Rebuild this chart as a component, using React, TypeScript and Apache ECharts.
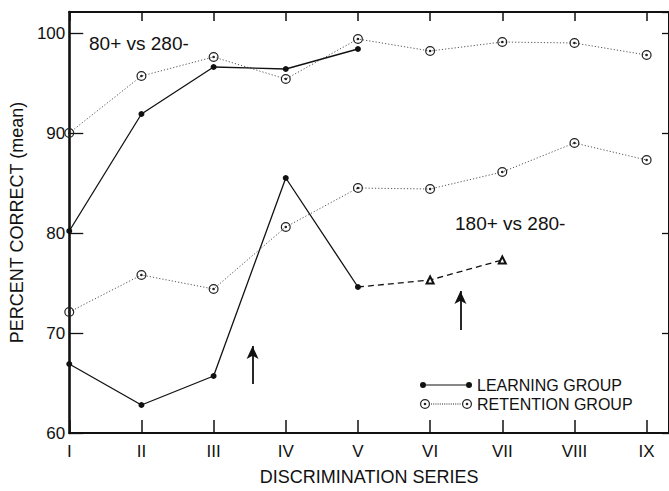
import { useEffect, useRef } from "react";
import * as echarts from "echarts";

// ---- data ----
const SERIES_LABELS = ["I", "II", "III", "IV", "V", "VI", "VII", "VIII", "IX"];
const Y_TICK_VALUES = [60, 70, 80, 90, 100];

// 80+ vs 280- discrimination
const LEARNING_80 = [80.2, 91.9, 96.6, 96.4, 98.4];
const RETENTION_80 = [90.0, 95.7, 97.6, 95.4, 99.4, 98.2, 99.1, 99.0, 97.8];

// 180+ vs 280- discrimination
const LEARNING_180 = [66.9, 62.8, 65.7, 85.5, 74.6];
const LEARNING_180_LATER: (number | null)[] = [null, null, null, null, 74.6, 75.3, 77.3];
const RETENTION_180 = [72.1, 75.8, 74.4, 80.6, 84.5, 84.4, 86.1, 89.0, 87.3];

// arrows (series position, from value, to value)
const ARROWS = [
  { x: 3.54, from: 64.9, to: 68.7 },
  { x: 6.42, from: 70.3, to: 74.2 },
];

const INK = "#111";
const FONT = "Liberation Sans";

function circ(cx: number, cy: number, r: number, cw: boolean) {
  const s = cw ? 1 : 0;
  return `M${cx},${cy - r}A${r},${r} 0 1,${s} ${cx},${cy + r}A${r},${r} 0 1,${s} ${cx},${cy - r}Z`;
}
function ringDot(cx: number, cy: number, r: number, ri: number, rd: number) {
  return circ(cx, cy, r, true) + " " + circ(cx, cy, ri, false) + " " + circ(cx, cy, rd, true);
}

const RING_SYMBOL = "path://" + ringDot(10, 10, 10, 7.6, 2.6);

const LEGEND_LEARN =
  "path://" +
  circ(3, 3, 3, true) +
  " " +
  circ(49, 3, 3, true) +
  " M3,2.4L49,2.4L49,3.6L3,3.6Z";

let dots = "";
for (let x = 11; x <= 40; x += 2.2) {
  dots += ` M${x.toFixed(1)},4.6L${(x + 1).toFixed(1)},4.6L${(x + 1).toFixed(1)},5.4L${x.toFixed(1)},5.4Z`;
}
const LEGEND_RET = "path://" + ringDot(5, 5, 5, 3.8, 1.3) + " " + ringDot(47, 5, 5, 3.8, 1.3) + dots;

const toXY = (vals: (number | null)[]) =>
  vals.map((v, i) => (v == null ? null : [i + 1, v])).filter((d) => d !== null) as number[][];

const X_MIN = 1;
const X_MAX = 9.31;
const Y_MIN = 60;
const Y_MAX = 102.1;

const learnStyle = {
  type: "line" as const,
  name: "LEARNING GROUP",
  symbol: "circle",
  symbolSize: 6,
  clip: false,
  itemStyle: { color: INK, borderWidth: 0 },
  lineStyle: { color: INK, width: 1.3 },
  z: 4,
};
const retStyle = {
  type: "line" as const,
  name: "RETENTION GROUP",
  symbol: RING_SYMBOL,
  symbolSize: 10,
  clip: false,
  itemStyle: { color: "#222", borderWidth: 0 },
  lineStyle: { color: "#555", width: 1, type: [1.2, 2] as any },
  z: 3,
};

const option: any = {
  animation: false,
  backgroundColor: "#fff",
  textStyle: { fontFamily: FONT, color: INK },
  grid: { left: 62, top: 12, width: 613, height: 425 },
  xAxis: [
    {
      type: "value",
      min: X_MIN,
      max: X_MAX,
      interval: 1,
      position: "bottom",
      name: "DISCRIMINATION SERIES",
      nameLocation: "middle",
      nameGap: 35,
      nameTextStyle: { fontSize: 18, color: INK, fontFamily: FONT },
      axisLine: { lineStyle: { color: INK, width: 2.2 } },
      axisTick: { inside: true, length: 13, lineStyle: { color: INK, width: 1.5 } },
      axisLabel: {
        margin: 10,
        fontSize: 17,
        color: INK,
        fontFamily: FONT,
        showMaxLabel: false,
        formatter: (v: number) =>
          Number.isInteger(v) && v >= 1 && v <= SERIES_LABELS.length ? SERIES_LABELS[v - 1] : "",
      },
      splitLine: { show: false },
    },
    {
      type: "value",
      min: X_MIN,
      max: X_MAX,
      interval: 1,
      position: "top",
      axisLine: { lineStyle: { color: INK, width: 2.2 } },
      axisTick: { inside: true, length: 9, lineStyle: { color: INK, width: 1.5 } },
      axisLabel: { show: false },
      splitLine: { show: false },
    },
  ],
  yAxis: [
    {
      type: "value",
      min: Y_MIN,
      max: Y_MAX,
      interval: 10,
      position: "left",
      name: "PERCENT CORRECT (mean)",
      nameLocation: "middle",
      nameGap: 35,
      nameTextStyle: { fontSize: 18, color: INK, fontFamily: FONT },
      axisLine: { lineStyle: { color: INK, width: 2.6 } },
      axisTick: { inside: true, length: 14, lineStyle: { color: INK, width: 1.3 } },
      axisLabel: {
        margin: 4,
        fontSize: 17,
        color: INK,
        fontFamily: FONT,
        showMaxLabel: false,
        formatter: (v: number) => (Y_TICK_VALUES.includes(v) ? String(v) : ""),
      },
      splitLine: { show: false },
    },
    {
      type: "value",
      min: Y_MIN,
      max: Y_MAX,
      interval: 10,
      position: "right",
      axisLine: { lineStyle: { color: INK, width: 2 } },
      axisTick: { inside: true, length: 7, lineStyle: { color: INK, width: 1.3 } },
      axisLabel: { show: false },
      splitLine: { show: false },
    },
  ],
  legend: [
    {
      data: ["LEARNING GROUP"],
      left: 420,
      top: 377,
      padding: 0,
      itemWidth: 52,
      itemHeight: 6,
      icon: LEGEND_LEARN,
      selectedMode: false,
      textStyle: { fontSize: 16, color: INK, fontFamily: FONT },
    },
    {
      data: ["RETENTION GROUP"],
      left: 420,
      top: 396,
      padding: 0,
      itemWidth: 52,
      itemHeight: 10,
      icon: LEGEND_RET,
      selectedMode: false,
      textStyle: { fontSize: 16, color: INK, fontFamily: FONT },
    },
  ],
  graphic: [
    {
      type: "text",
      x: 89,
      y: 43,
      style: { text: "80+ vs 280-", fontSize: 19, fontFamily: FONT, fill: INK, verticalAlign: "middle" },
    },
    {
      type: "text",
      x: 455,
      y: 223,
      style: { text: "180+ vs 280-", fontSize: 19, fontFamily: FONT, fill: INK, verticalAlign: "middle" },
    },
  ],
  series: [
    { ...retStyle, data: toXY(RETENTION_80) },
    { ...retStyle, data: toXY(RETENTION_180) },
    { ...learnStyle, data: toXY(LEARNING_80) },
    { ...learnStyle, data: toXY(LEARNING_180) },
    {
      type: "line",
      name: "learning (continued)",
      clip: false,
      z: 4,
      symbol: "emptyTriangle",
      symbolSize: 7,
      itemStyle: { color: INK, borderWidth: 1 },
      lineStyle: { color: INK, width: 1.3, type: [6, 4] },
      data: toXY(LEARNING_180_LATER).map((d, i) => (i === 0 ? { value: d, symbol: "none" } : { value: d })),
      markLine: {
        silent: true,
        symbol: ["none", "arrow"],
        symbolSize: [9, 13],
        label: { show: false },
        lineStyle: { color: INK, width: 1.8, type: "solid" },
        data: ARROWS.map((a) => [{ coord: [a.x, a.from] }, { coord: [a.x, a.to] }]),
      },
    },
  ],
};

export default function App() {
  const ref = useRef<HTMLDivElement>(null);
  useEffect(() => {
    const chart = echarts.init(ref.current!, null, { renderer: "svg" });
    chart.setOption(option);
    return () => chart.dispose();
  }, []);
  return (
    <div
      ref={ref}
      style={{ position: "fixed", left: 0, top: 0, width: 669, height: 491, background: "#fff" }}
    />
  );
}
